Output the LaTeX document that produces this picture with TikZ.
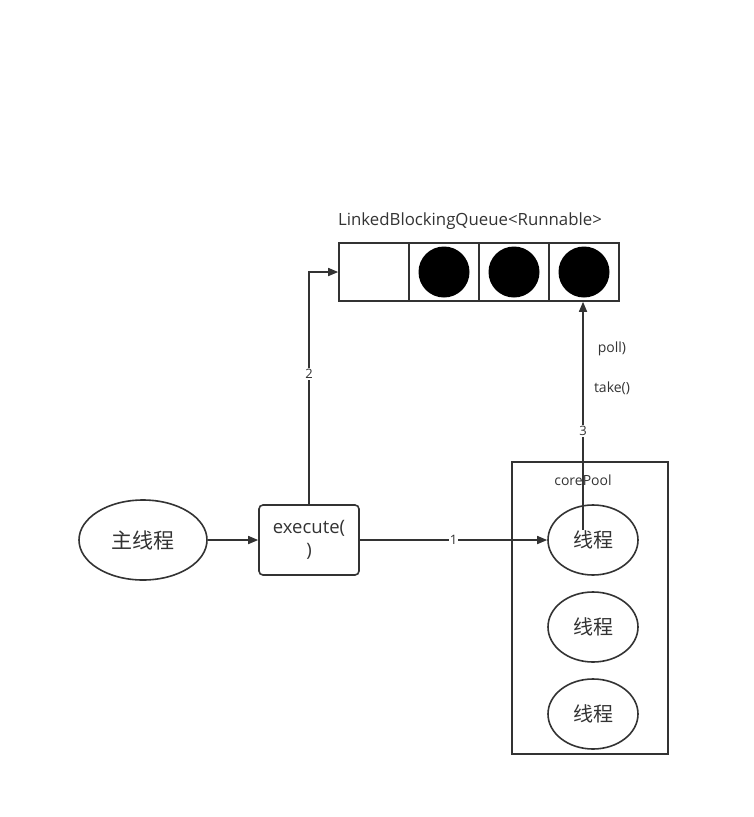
\documentclass[tikz,border=0pt]{standalone}
\usepackage{fontspec}
\setmainfont{Noto Sans CJK SC}
\newfontfamily\lat{Open Sans}
\usetikzlibrary{arrows.meta,shapes.geometric}
\definecolor{ln}{HTML}{333333}
\begin{document}
\begin{tikzpicture}[x=1pt,y=-1pt,
  line/.style={draw=ln,line width=1.6pt},
  arr/.style={line,-{Triangle[length=10pt,width=8pt]}},
  ell/.style={ellipse,draw=ln,line width=1.6pt,inner sep=0pt},
  lbl/.style={fill=white,inner sep=1pt,font=\lat\fontsize{13}{14}\selectfont,text=ln},
  txt/.style={font=\lat\fontsize{14}{16}\selectfont,text=ln}]
\useasboundingbox (0,0) rectangle (754,817);
% queue
\node[txt,font=\lat\fontsize{16.8}{18}\selectfont] (title) at (470,221) {LinkedBlockingQueue<Runnable>};
\node[line,rectangle,minimum width=70pt,minimum height=58pt,inner sep=0pt] (q1) at (374,272) {};
\node[line,rectangle,minimum width=70pt,minimum height=58pt,inner sep=0pt] (q2) at (444,272) {};
\node[line,rectangle,minimum width=70pt,minimum height=58pt,inner sep=0pt] (q3) at (514,272) {};
\node[line,rectangle,minimum width=70pt,minimum height=58pt,inner sep=0pt] (q4) at (584,272) {};
\fill[black] (q2.center) circle (25.5);
\fill[black] (q3.center) circle (25.5);
\fill[black] (q4.center) circle (25.5);
% main thread
\node[ell,minimum width=128pt,minimum height=80pt,font=\fontsize{21}{24}\selectfont,text=ln] (main) at (143,540) {主线程};
\node[line,rectangle,rounded corners=4pt,minimum width=100pt,minimum height=70pt,align=center,font=\lat\fontsize{18.5}{23}\selectfont,text=ln] (exec) at (309,540) {execute(\\)};
% core pool
\node[line,rectangle,minimum width=156pt,minimum height=292pt,inner sep=0pt] (pool) at (590,608) {};
\node[txt] (pooltitle) at (583,480) {corePool};
\node[ell,minimum width=90pt,minimum height=70pt,font=\fontsize{20}{22}\selectfont,text=ln] (t1) at (593,540) {线程};
\node[ell,minimum width=90pt,minimum height=70pt,font=\fontsize{20}{22}\selectfont,text=ln] (t2) at (593,627) {线程};
\node[ell,minimum width=90pt,minimum height=70pt,font=\fontsize{20}{22}\selectfont,text=ln] (t3) at (593,714) {线程};
% connectors
\draw[arr] (main) -- (exec);
\draw[arr] (exec) -- node[lbl] {1} (t1);
\draw[arr] (exec.north) -- (exec.north |- q1.west) -- (q1.west);
\node[lbl] (l2) at (309,374) {2};
\coordinate (t1s) at (583,530);
\draw[arr] (t1s) -- (t1s |- q4.south);
\node[lbl] (l3) at (583,431) {3};
\node[txt] (poll) at (612,349) {poll)};
\node[txt] (take) at (612,388) {take()};
\end{tikzpicture}
\end{document}
